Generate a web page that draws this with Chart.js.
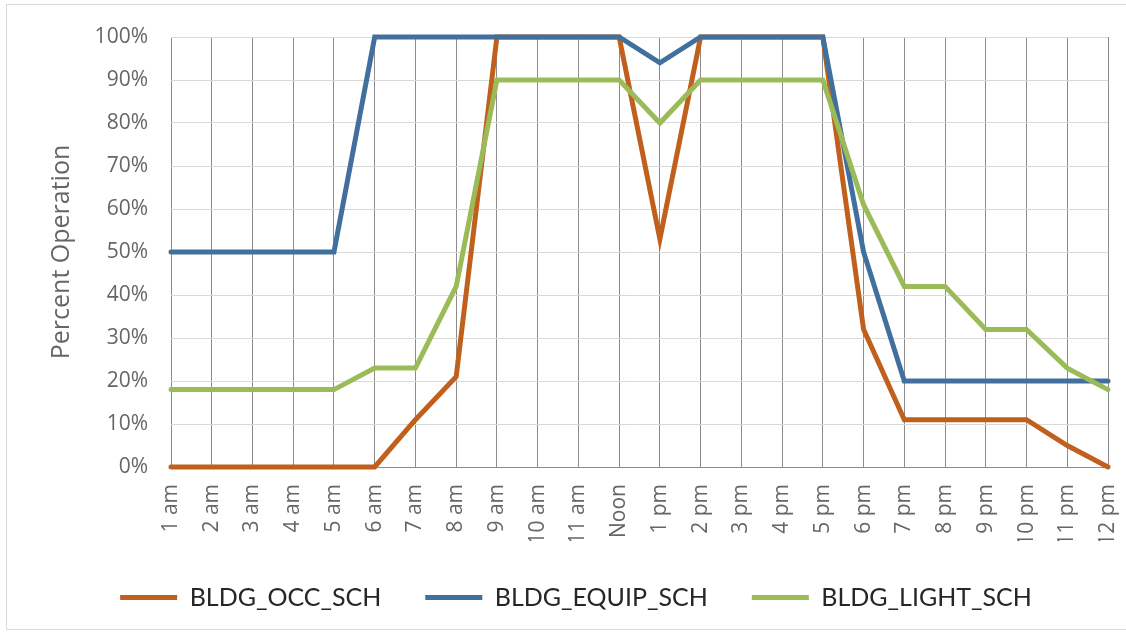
<!DOCTYPE html>
<html>
<head>
<meta charset="utf-8">
<script src="https://cdn.jsdelivr.net/npm/chart.js@4"></script>
<style>
  html, body { margin: 0; padding: 0; background: #fff; }
  #wrap { position: relative; width: 1126px; height: 637px; }
  #frame { position: absolute; left: 6px; top: 4px; width: 1130px; height: 626px; border: 1px solid #d9d9d9; box-sizing: border-box; pointer-events: none; }
</style>
</head>
<body>
<div id="wrap">
  <canvas id="chart" width="1126" height="637"></canvas>
  <div id="frame"></div>
</div>
<script>
const hours = ['1 am', '2 am', '3 am', '4 am', '5 am', '6 am', '7 am', '8 am', '9 am', '10 am', '11 am', 'Noon',
  '1 pm', '2 pm', '3 pm', '4 pm', '5 pm', '6 pm', '7 pm', '8 pm', '9 pm', '10 pm', '11 pm', '12 pm'];

const occSch   = [0, 0, 0, 0, 0, 0, 11, 21, 100, 100, 100, 100, 53, 100, 100, 100, 100, 32, 11, 11, 11, 11, 5, 0];
const equipSch = [50, 50, 50, 50, 50, 100, 100, 100, 100, 100, 100, 100, 94, 100, 100, 100, 100, 50, 20, 20, 20, 20, 20, 20];
const lightSch = [18, 18, 18, 18, 18, 23, 23, 42, 90, 90, 90, 90, 80, 90, 90, 90, 90, 61, 42, 42, 32, 32, 23, 18];

const seriesNames = ['BLDG_OCC_SCH', 'BLDG_EQUIP_SCH', 'BLDG_LIGHT_SCH'];
const seriesColors = ['#c0601c', '#41709c', '#9bbb59'];

const tickFont = {family: "'Open Sans', sans-serif", size: 21};

// later series sit on top, like excel draws them
const makeSet = (i, data) => ({
  label: seriesNames[i],
  data: data,
  order: seriesNames.length - i,
  borderColor: seriesColors[i],
  backgroundColor: seriesColors[i],
  borderWidth: 5,
  borderCapStyle: 'round',
  borderJoinStyle: 'miter',
  pointRadius: 0,
  tension: 0,
  fill: false,
  clip: false
});

const config = {
  type: 'line',
  data: {
    labels: hours,
    datasets: [makeSet(0, occSch), makeSet(1, equipSch), makeSet(2, lightSch)]
  },
  options: {
    responsive: false,
    animation: false,
    layout: {padding: {left: 44, right: 18, top: 37, bottom: 17}},
    plugins: {
      tooltip: {enabled: false},
      legend: {
        position: 'bottom',
        labels: {
          usePointStyle: true,
          pointStyle: 'line',
          pointStyleWidth: 57,
          boxHeight: 6,
          padding: 44,
          color: '#262626',
          font: {family: "'Lato', sans-serif", size: 25},
          sort: (a, b) => a.datasetIndex - b.datasetIndex
        }
      }
    },
    scales: {
      x: {
        offset: false,
        grid: {color: '#8c8c8c', lineWidth: 1, drawTicks: false},
        border: {color: '#8c8c8c'},
        ticks: {
          color: '#666',
          font: tickFont,
          minRotation: 90,
          maxRotation: 90,
          autoSkip: false,
          padding: 17
        },
        afterFit: (scale) => {
          scale.height = 74;
          // rotated labels are narrow, no extra side room needed
          scale.paddingLeft = 0;
          scale.paddingRight = 0;
        }
      },
      y: {
        min: 0,
        max: 100,
        grid: {color: '#d9d9d9', lineWidth: 1, drawTicks: false},
        border: {display: false},
        ticks: {
          stepSize: 10,
          color: '#666',
          font: tickFont,
          padding: 23,
          callback: (v) => v + '%'
        },
        title: {
          display: true,
          text: 'Percent Operation',
          color: '#666',
          font: {family: "'Open Sans', sans-serif", size: 25},
          padding: {top: 3, bottom: 0}
        },
        afterFit: (scale) => { scale.width = 127; }
      }
    }
  }
};

const ctx = document.getElementById('chart').getContext('2d');
const plot = new Chart(ctx, config);
</script>
</body>
</html>
